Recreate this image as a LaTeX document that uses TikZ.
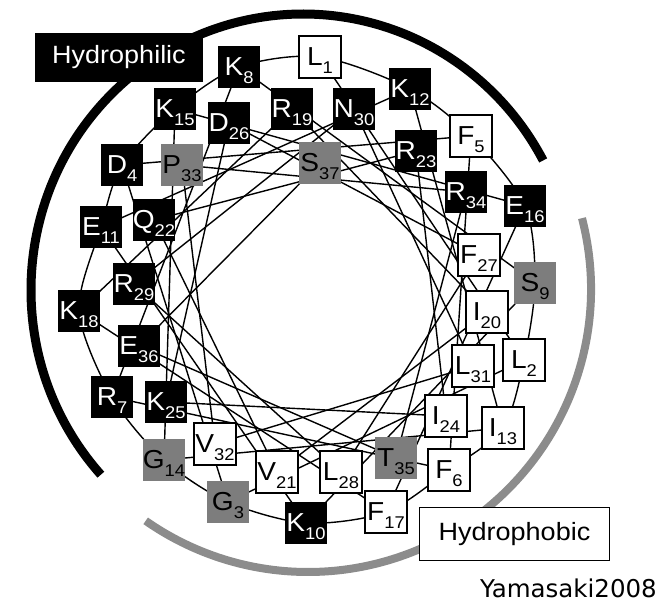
\documentclass[tikz,border=0pt]{standalone}
\usepackage{fontspec}
\setmainfont[FakeStretch=1.08]{Liberation Sans}
\newfontfamily\yfont{DejaVu Sans}
\usetikzlibrary{backgrounds}
\definecolor{resgray}{RGB}{125,125,125}
\definecolor{arcgray}{RGB}{140,140,140}
\newcommand\res[2]{#1\raisebox{-8pt}{\fontsize{17pt}{17pt}\selectfont #2}}
\tikzset{
  resbox/.style={rectangle, minimum width=42pt, minimum height=42pt, inner sep=0pt,
    text height=27pt, text depth=10pt, font=\fontsize{26pt}{26pt}\selectfont},
  philbox/.style={resbox, fill=black, text=white},
  phobbox/.style={resbox, fill=white, draw=black, line width=1.5pt},
  neutbox/.style={resbox, fill=resgray, text=black},
  chord/.style={line width=1.4pt, black},
  ringline/.style={line width=1.4pt, black},
  labelfont/.style={font=\fontsize{25pt}{25pt}\selectfont}
}
\begin{document}
\begin{tikzpicture}[x=1pt,y=-1pt]
\useasboundingbox (0,0) rectangle (664,605);
% residues
\node[phobbox] (n1)  at (320,57)  {\res{L}{1}};
\node[phobbox] (n2)  at (524,360) {\res{L}{2}};
\node[neutbox] (n3)  at (228,502) {\res{G}{3}};
\node[philbox] (n4)  at (122,165) {\res{D}{4}};
\node[phobbox] (n5)  at (471,136) {\res{F}{5}};
\node[phobbox] (n6)  at (449,470) {\res{F}{6}};
\node[philbox] (n7)  at (112,397) {\res{R}{7}};
\node[philbox] (n8)  at (239,67)  {\res{K}{8}};
\node[neutbox] (n9)  at (535,283) {\res{S}{9}};
\node[philbox] (n10) at (306,523) {\res{K}{10}};
\node[philbox] (n11) at (101,227) {\res{E}{11}};
\node[philbox] (n12) at (410,89)  {\res{K}{12}};
\node[phobbox] (n13) at (503,428) {\res{I}{13}};
\node[neutbox] (n14) at (164,460) {\res{G}{14}};
\node[philbox] (n15) at (175,109) {\res{K}{15}};
\node[philbox] (n16) at (525,206) {\res{E}{16}};
\node[phobbox] (n17) at (386,512) {\res{F}{17}};
\node[philbox] (n18) at (79,311)  {\res{K}{18}};
\node[philbox] (n19) at (292,109) {\res{R}{19}};
\node[phobbox] (n20) at (487,312) {\res{I}{20}};
\node[phobbox] (n21) at (277,472) {\res{V}{21}};
\node[philbox] (n22) at (154,220) {\res{Q}{22}};
\node[philbox] (n23) at (416,151) {\res{R}{23}};
\node[phobbox] (n24) at (446,416) {\res{I}{24}};
\node[philbox] (n25) at (166,402) {\res{K}{25}};
\node[philbox] (n26) at (229,123) {\res{D}{26}};
\node[phobbox] (n27) at (479,255) {\res{F}{27}};
\node[phobbox] (n28) at (341,472) {\res{L}{28}};
\node[philbox] (n29) at (134,284) {\res{R}{29}};
\node[philbox] (n30) at (354,109) {\res{N}{30}};
\node[phobbox] (n31) at (473,366) {\res{L}{31}};
\node[phobbox] (n32) at (215,444) {\res{V}{32}};
\node[neutbox] (n33) at (182,165) {\res{P}{33}};
\node[philbox] (n34) at (466,192) {\res{R}{34}};
\node[neutbox] (n35) at (396,458) {\res{T}{35}};
\node[philbox] (n36) at (139,346) {\res{E}{36}};
\node[neutbox] (n37) at (320,163) {\res{S}{37}};
% labels
\node[fill=black, text=white, minimum width=168pt, minimum height=49pt, inner sep=0pt, labelfont] (philic) at (119,57.5) {Hydrophilic};
\node[draw=black, fill=white, line width=1.5pt, minimum width=190pt, minimum height=53pt, inner sep=0pt, labelfont] (phobic) at (514.5,534) {Hydrophobic};
\node[anchor=base east, inner sep=0pt, font=\yfont\fontsize{24.5pt}{24.5pt}\selectfont] (cite) at (657,597) {Yamasaki2008};
\coordinate (philc) at (303,290);
\coordinate (phobc) at (308,289);
\begin{scope}[on background layer]
  \draw[line width=9pt, black] (philc) ++(138:272 and 276) arc[start angle=138, end angle=332, x radius=272, y radius=276];
  \draw[line width=8pt, arcgray] (phobc) ++(-14.5:283) arc[start angle=-14.5, end angle=125, radius=283];
  \draw[ringline] plot[smooth cycle] coordinates {(n1.center) (n12.center) (n5.center) (n16.center) (n9.center) (n2.center) (n13.center) (n6.center) (n17.center) (n10.center) (n3.center) (n14.center) (n7.center) (n18.center) (n11.center) (n4.center) (n15.center) (n8.center)};
  \foreach \i [evaluate=\i as \j using int(\i+1)] in {1,...,36} {
    \draw[chord] (n\i.center) -- (n\j.center);
  }
\end{scope}
\end{tikzpicture}
\end{document}
